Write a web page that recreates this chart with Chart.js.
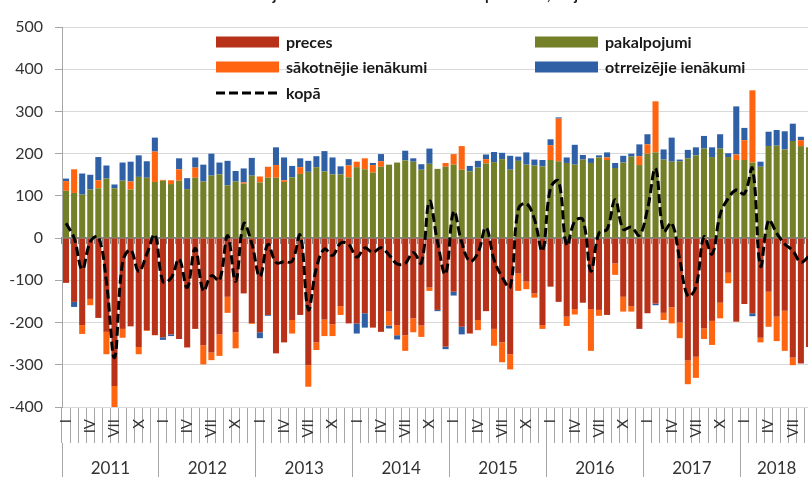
<!DOCTYPE html>
<html lang="lv">
<head>
<meta charset="utf-8">
<title>Tekošā konta komponentes</title>
<script src="https://cdn.jsdelivr.net/npm/chart.js@4.4.1/dist/chart.umd.min.js"></script>
<style>
    html, body { margin: 0; padding: 0; background: #fff; overflow: hidden; }
    #wrap  { position: relative; width: 813px; height: 477px; }
    #title {
        position: absolute; left: 0; top: -15px; width: 840px;
        text-align: center; font: bold 15px Lato, sans-serif; color: #1a1a1a;
    }
</style>
</head>
<body>
<div id="wrap">
    <canvas id="bopChart"></canvas>
    <div id="title">Maksājumu bilances tekošā konta komponentes, milj. eiro</div>
</div>
<script>
/* ── Dati (milj. eiro), 2011. gada janvāris – 2018. gada septembris ── */
const years      = ['2011', '2012', '2013', '2014', '2015', '2016', '2017', '2018'];
const monthMarks = ['I', '', '', 'IV', '', '', 'VII', '', '', 'X', '', ''];
const yTicks     = [-400, -300, -200, -100, 0, 100, 200, 300, 400, 500];

const preces = [
    -106, -151, -206, -144, -189, -222, -350, -215, -209, -258, -218, -230,
    -235, -228, -239, -259, -215, -254, -271, -228, -139, -223, -131, -201,
    -223, -182, -273, -247, -194, -182, -301, -247, -193, -204, -161, -202,
    -202, -178, -212, -222, -174, -206, -230, -190, -207, -117, -170, -257,
    -127, -210, -226, -194, -173, -215, -247, -275,  -84, -103, -131, -206,
    -115, -151, -186, -168, -153, -168, -170, -182,  -60, -139, -161, -215,
    -178, -155, -177, -164, -200, -290, -281, -214, -196, -153,  -82, -198,
    -156, -178, -236, -127, -186, -172, -283, -297, -258
];
const pakalpojumi = [
    112, 107, 103, 115, 118, 141, 118, 136, 115, 145, 143, 133,
    136, 128, 136, 116, 143, 134, 148, 151, 125, 134, 129, 148,
    132, 143, 143, 133, 144, 152, 157, 168, 158, 151, 151, 144,
    168, 163, 155, 169, 174, 179, 184, 181, 162, 176, 164, 169,
    174, 162, 158, 167, 177, 180, 187, 162, 183, 174, 172, 170,
    185, 182, 178, 174, 186, 178, 191, 185, 166, 179, 193, 173,
    200, 203, 186, 181, 182, 189, 196, 212, 192, 212, 192, 185,
    185, 179, 169, 218, 219, 210, 230, 218, 215
];
const sakotnejie = [
     23,  56, -21, -15,  19, -53, -55, -21,  19, -17,  -2,  72,
      2,   9,  27,   0,  24, -45, -18, -51, -38, -38,   3,  -2,
     14,  26,  30,   4, -32,  16, -51, -18, -39, -28, -21,  28,
     13,  26,  18,  13, -33, -24, -37, -33, -27,  -8,   0,   9,
     25,  56,   0, -24,  10, -40, -47, -36, -41, -18, -10,  -9,
     35, 101, -22, -13,   0, -99, -14,   6, -27, -35, -13,  21,
     22, 121, -17, -38, -37, -56, -50, -25, -57, -37, -25,  13,
     47, 171, -11, -83, -58, -95, -18,  14,   0
];
const otrreizejie = [
      6, -12,  50,  35,  55,  31,   9,  43,  47,  51,  39,  33,
     -6,  -4,  26,  26,  24,  40,  52,  28,  58,  25,  33,  42,
    -14,  -2,  42,  54,  27,  21,  26,  26,  48,  40,  19,  15,
    -24, -34,   5,  17,  -7, -10,  23,   8,  13,  36,  -3,  -6,
     -9, -18,  13,  16,  11,  24,  15,  33,  10,  29,  14,  15,
     14,   3,  13,  47,  11,  11,   5,  12,  12,  16,   7,  28,
     24,  -4,  24,  57,   4,  20,  19,  30,  23,  34,   9, 114,
     29,  -7,  12,  34,  37,  43,  41,   8,   0
];
const kopa = [
      35,    0,  -74,   -9,    3, -103, -283,  -57,  -28,  -79,  -38,    8,
    -103,  -95,  -50, -117,  -24, -125,  -89, -100,    6, -102,   34,  -13,
     -91,  -15,  -58,  -56,  -55,    7, -169,  -71,  -26,  -41,  -12,  -15,
     -45,  -23,  -34,  -23,  -40,  -61,  -60,  -34,  -59,   87,   -9,  -85,
      63,  -10,  -55,  -35,   25,  -51,  -92, -116,   68,   82,   45,  -30,
     119,  135,  -17,   40,   44,  -78,   12,   21,   91,   21,   26,    7,
      68,  165,   16,   36,  -51, -137, -116,    3,  -38,   56,   94,  114,
     105,  165,  -66,   42,   12,  -14,  -30,  -57,  -43
];

/* ── Kategorijas: mēneši (romiešu cipari) un gadu grupas ───────── */
const monthLabels = preces.map((_, i) => monthMarks[i % 12]);
const lastIndex   = monthLabels.length - 1;

const yearTicks = [];
years.forEach((yr, k) => {
    const first = k * 12;
    const last  = Math.min(first + 11, lastIndex);
    yearTicks.push({ value: first - 0.5, edge: true });
    yearTicks.push({ value: (first + last) / 2, year: yr });
});

const FONT = 'Lato, "Open Sans", sans-serif';
const AXIS_GREY = '#a6a6a6';

/* ── Leģenda divās kolonnās virs stabiņiem ─────────────────────── */
const legendSlots = [[216, 42], [535, 42], [216, 67], [535, 67], [216, 93]];

const gridLegend = {
    id: 'gridLegend',
    afterDraw(chart) {
        const ctx = chart.ctx;
        ctx.save();
        ctx.font = 'bold 16px ' + FONT;
        ctx.textBaseline = 'middle';
        chart.data.datasets.forEach((ds, i) => {
            const [x, y] = legendSlots[i];
            if (ds.type === 'line') {
                ctx.strokeStyle = ds.borderColor;
                ctx.lineWidth = ds.borderWidth;
                ctx.setLineDash(ds.borderDash);
                ctx.beginPath();
                ctx.moveTo(x, y);
                ctx.lineTo(x + 63, y);
                ctx.stroke();
                ctx.setLineDash([]);
            } else {
                ctx.fillStyle = ds.backgroundColor;
                ctx.fillRect(x, y - 5.5, 63, 11);
            }
            ctx.fillStyle = '#1a1a1a';
            ctx.fillText(ds.label, x + 70, y + 1);
        });
        ctx.restore();
    }
};

const bar = (label, data, color) => ({
    type: 'bar', label, data,
    backgroundColor: color,
    borderWidth: 0,
    barPercentage: 0.75,
    categoryPercentage: 1,
    order: 1
});

const ctx = document.getElementById('bopChart').getContext('2d');

const bopChart = new Chart(ctx, {
    data: {
        labels: monthLabels,
        datasets: [
            bar('preces',              preces,      '#b83119'),
            bar('pakalpojumi',         pakalpojumi, '#748027'),
            bar('sākotnējie ienākumi', sakotnejie,  '#ff6410'),
            bar('otrreizējie ienākumi', otrreizejie, '#2f5fa5'),
            {
                type: 'line', label: 'kopā', data: kopa,
                borderColor: '#000', borderWidth: 3, borderDash: [9, 4],
                tension: 0.4, pointRadius: 0, fill: false, order: 0
            }
        ]
    },
    options: {
        responsive: true,
        maintainAspectRatio: false,
        animation: false,
        layout: { padding: { top: 27, right: 0, bottom: 0, left: 0 } },
        plugins: { legend: { display: false }, tooltip: { enabled: false } },
        scales: {
            x: {
                type: 'category', position: 'bottom', weight: 0,
                stacked: true, offset: true,
                grid:   { offset: true, drawOnChartArea: false, tickLength: 36, color: AXIS_GREY },
                border: { display: false },
                ticks: {
                    autoSkip: false, maxRotation: 90, minRotation: 90, padding: -24,
                    color: '#333', font: { family: FONT, size: 15 }
                },
                afterFit: s => { s.height = 36; }
            },
            xYears: {
                type: 'linear', axis: 'x', position: 'bottom', weight: 1,
                min: -0.5, max: lastIndex + 0.5,
                afterBuildTicks: s => { s.ticks = yearTicks.map(t => ({ ...t })); },
                grid: {
                    drawOnChartArea: false, tickLength: 34,
                    color: c => (c.tick && c.tick.edge ? AXIS_GREY : 'rgba(0,0,0,0)')
                },
                border: { display: false },
                ticks: {
                    autoSkip: false, maxRotation: 0, padding: -19,
                    callback: (v, i, t) => t[i].year || '',
                    color: '#333', font: { family: FONT, size: 17 }
                },
                afterFit: s => { s.height = 34; }
            },
            xZero: {
                type: 'category', axis: 'x', position: { y: 0 }, offset: true, z: 1,
                grid:   { offset: true, drawOnChartArea: false, tickLength: 5, color: '#8c8c8c' },
                border: { color: '#8c8c8c', width: 2 },
                ticks:  { display: false }
            },
            y: {
                stacked: true, min: yTicks[0], max: yTicks[yTicks.length - 1],
                afterBuildTicks: s => { s.ticks = yTicks.map(v => ({ value: v })); },
                grid:   { color: '#d9d9d9', tickLength: 7, tickColor: AXIS_GREY },
                border: { color: AXIS_GREY },
                ticks:  { padding: 12, color: '#333', font: { family: FONT, size: 16 } },
                afterFit: s => { s.width = 62; }
            }
        }
    },
    plugins: [gridLegend]
});
</script>
</body>
</html>
